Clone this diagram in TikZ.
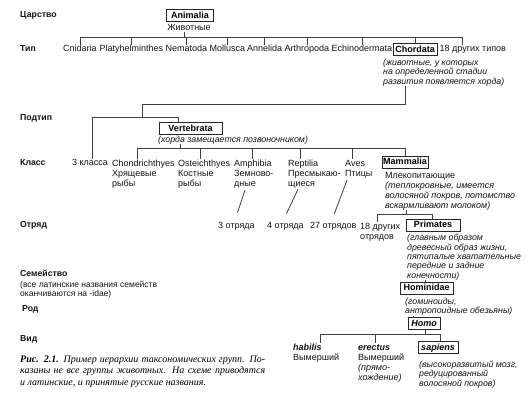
\documentclass[tikz,border=0pt]{standalone}
\usepackage{fontspec}
\setmainfont{Liberation Sans}
\newfontfamily\capserif{Liberation Serif}
\usetikzlibrary{calc}
\newcommand\regf{\fontsize{9}{10}\selectfont}
\newcommand\desf{\fontsize{8.8}{9.4}\selectfont\itshape}
\newcommand\lblf{\fontsize{8.7}{9}\selectfont\bfseries}
\newcommand\smf{\fontsize{8.5}{9.5}\selectfont}
\newcommand\capf{\capserif\fontsize{10}{11.5}\selectfont\itshape}
\newcommand\stt{\rule{0pt}{7.2pt}}
\begin{document}
\begin{tikzpicture}[x=1pt,y=-1pt,
  txt/.style={inner sep=0pt, font=\regf, text=black!92},
  rt/.style={txt, anchor=west, text height=6.6pt, text depth=1.6pt},
  ml/.style={txt, anchor=north west, align=left},
  des/.style={ml, font=\desf},
  lbl/.style={inner sep=0pt, anchor=west, font=\lblf, text=black!92, text height=6.4pt, text depth=1.6pt},
  box/.style={draw=black!85, line width=0.9pt, inner sep=0pt, minimum height=12pt,
    font=\regf\bfseries, text=black, text height=6.6pt, text depth=1.6pt},
  ln/.style={draw=black!75, line width=0.8pt}]
\fill[white] (0,0) rectangle (529,400);
\useasboundingbox (0,0) rectangle (529,400);

% left labels
\node[lbl] (lk) at (20,15) {Царство};
\node[lbl] (lt) at (20,49) {Тип};
\node[lbl] (lp) at (20,118) {Подтип};
\node[lbl] (lc) at (20,163) {Класс};
\node[lbl] (lo) at (20,225) {Отряд};
\node[lbl] (lf) at (20,274) {Семейство};
\node[ml, font=\smf] (lfd) at (20,279.8) {\stt(все латинские названия семейств\\оканчиваются на -idae)};
\node[lbl] (lr) at (22,309) {Род};
\node[lbl] (lv) at (20,339) {Вид};

% kingdom
\node[box, minimum width=47pt] (anim) at (190,15.5) {Animalia};
\node[txt, text height=6.6pt, text depth=1.6pt] (zh) at (189,28) {Животные};

% phyla
\node[rt] (cn) at (63,49) {Cnidaria};
\node[rt] (pl) at (99.5,49) {Platyhelminthes};
\node[rt] (ne) at (165.5,49) {Nematoda};
\node[rt] (mo) at (209.5,49) {Mollusca};
\node[rt] (an) at (247,49) {Annelida};
\node[rt] (ar) at (284.5,49) {Arthropoda};
\node[rt] (ec) at (331.5,49) {Echinodermata};
\node[box, minimum width=44pt] (chd) at (415,49.5) {Chordata};
\node[rt] (oth) at (439.5,49) {18 других типов};
\node[des] (chdd) at (383,57.8) {\stt(животные, у которых\\на определенной стадии\\развития появляется хорда)};

\coordinate (t0) at (184,37);
\coordinate (t9) at (462,37);
\draw[ln] (t0) -- (t0 |- zh.south);
\draw[ln] (cn.north |- t0) -- (t9) -- (t9 |- oth.north);
\foreach \n in {cn,pl,ne,mo,an,ar,ec,chd}
  \draw[ln] (\n.north) -- (\n.north |- t0);

% subphylum
\coordinate (c1) at (405,104);
\coordinate (c2) at (142,117);
\coordinate (c3) at (92,117);
\coordinate (c4) at (178,117);
\node[box, minimum width=63pt] (vert) at (190.5,128.5) {Vertebrata};
\node[rt, font=\desf] (vsub) at (158,140) {(хорда замещается позвоночником)};
\node[rt] (k3) at (72,163) {3 класса};
\draw[ln] (c1 |- chdd.south) -- (c1) -| (c2);
\draw[ln] (k3.north -| c3) -- (c3) -- (c4) -- (c4 |- vert.north);

% classes
\coordinate (kv) at (180,148);
\coordinate (k1) at (137,148);
\coordinate (k2) at (200,148);
\coordinate (k3c) at (252,148);
\coordinate (k4) at (300,148);
\coordinate (k5) at (352,148);
\coordinate (k6) at (405,148);
\node[ml] (kch) at (112,158.8) {\stt Chondrichthyes\\Хрящевые\\рыбы};
\node[ml] (kos) at (178,158.8) {\stt Osteichthyes\\Костные\\рыбы};
\node[ml] (kam) at (234,158.8) {\stt Amphibia\\Земново-\\дные};
\node[ml] (kre) at (288,158.8) {\stt Reptilia\\Пресмыкаю-\\щиеся};
\node[ml] (kav) at (345,158.8) {\stt Aves\\Птицы};
\node[box, minimum width=46pt] (mam) at (405,162) {Mammalia};
\draw[ln] (vsub.south -| kv) -- (kv);
\draw[ln] (k1) -- (k6);
\draw[ln] (k1) -- (k1 |- kch.north);
\draw[ln] (k2) -- (k2 |- kos.north);
\draw[ln] (k3c) -- (k3c |- kam.north);
\draw[ln] (k4) -- (k4 |- kre.north);
\draw[ln] (k5) -- (k5 |- kav.north);
\draw[ln] (k6) -- (mam.north);
\node[ml] (mdesc) at (385,170.8) {\stt Млекопитающие\\\itshape (теплокровные, имеется\\\itshape волосяной покров, потомство\\\itshape вскармливают молоком)};

% orders
\node[rt] (o3) at (218,226) {3 отряда};
\node[rt] (o4) at (267,226) {4 отряда};
\node[rt] (o27) at (310,226) {27 отрядов};
\node[ml] (o18) at (360,221.8) {\stt 18 других\\отрядов};
\node[box, minimum width=54pt] (prim) at (433,225) {Primates};
\coordinate (m1) at (406,214);
\coordinate (m2) at (377,214);
\coordinate (m3) at (432,214);
\draw[ln] (mdesc.south -| m1) -- (m1);
\draw[ln] (o18.north -| m2) -- (m2) -- (m3) -- (m3 |- prim.north);
\draw[ln] ($(kam.south west)+(11,2)$) -- ($(o3.north)+(1,-9)$);
\draw[ln] ($(kre.south west)+(10,1)$) -- ($(o4.north)+(1,-8)$);
\draw[ln] ($(kav.south west)+(2,2)$) -- ($(o27.north)+(1,-8)$);
\node[des] (pdesc) at (407,233.3) {\stt(главным образом\\древесный образ жизни,\\пятипалые хватательные\\передние и задние\\конечности)};

% family
\node[box, minimum width=53pt] (hom) at (426.5,288) {Hominidae};
\coordinate (h1) at (425,0);
\draw[ln] (pdesc.south -| h1) -- (hom.north -| h1);
\node[des] (hdesc) at (405,296.8) {\stt(гоминоиды,\\антропоидные обезьяны)};

% genus
\node[box, minimum width=32pt, font=\regf\bfseries\itshape] (homo) at (424,323.5) {Homo};
\coordinate (g1) at (413,0);
\draw[ln] (hdesc.south -| g1) -- (homo.north -| g1);

% species
\coordinate (sh) at (425,334.5);
\coordinate (s1) at (320,334.5);
\coordinate (s2) at (375,334.5);
\coordinate (s3) at (440,334.5);
\node[ml] (hab) at (293,343) {\stt\bfseries\itshape habilis\\Вымерший};
\node[ml] (ere) at (358,343) {\stt\bfseries\itshape erectus\\Вымерший\\\itshape (прямо-\\\itshape хождение)};
\node[box, minimum width=40pt, font=\regf\bfseries\itshape] (sap) at (438,347.5) {sapiens};
\node[des] (sdesc) at (419,360) {\stt(высокоразвитый мозг,\\редуцированный\\волосяной покров)};
\draw[ln] (homo.south -| sh) -- (sh);
\draw[ln] (hab.north -| s1) -- (s1) -- (s3) -- (s3 |- sap.north);
\draw[ln] (s2) -- (s2 |- ere.north);

% caption
\node[ml, font=\capf, text=black] (cap) at (20,354) {\rule{0pt}{8pt}\makebox[245pt][s]{{\bfseries Рис. 2.1.} Пример иерархии таксономических групп. По-}\\\makebox[245pt][s]{казаны не все группы животных. На схеме приводятся}\\и латинские, и принятые русские названия.};
\end{tikzpicture}
\end{document}
